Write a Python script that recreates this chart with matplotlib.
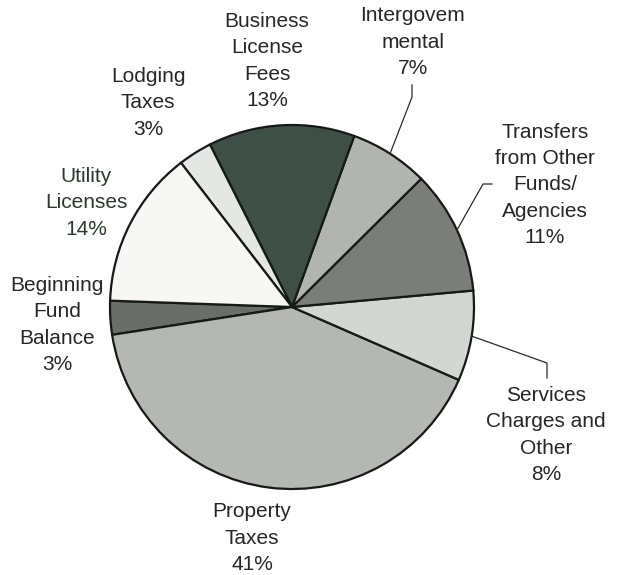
import matplotlib.pyplot as plt
import numpy as np

plt.rcParams['font.family'] = ['Liberation Sans', 'DejaVu Sans']

# revenue sources, in the order they are drawn (counter-clockwise from the left)
labels = ['Beginning\nFund\nBalance', 'Property\nTaxes', 'Services\nCharges and\nOther',
          'Transfers\nfrom Other\nFunds/\nAgencies', 'Intergovem\nmental',
          'Business\nLicense\nFees', 'Lodging\nTaxes', 'Utility\nLicenses']
shares = [3, 41, 8, 11, 7, 13, 3, 14]
colors = ['#6b6d69', '#b5b7b3', '#d3d7d2', '#7b7d79', '#b2b4b0',
          '#3d4f47', '#e5e7e5', '#f7f7f5']
text_colors = ['#262626'] * 7 + ['#283a2b']

# pixel geometry of the figure
W, H = 617, 575
cx, cy, R = 292, 307, 182


def px(x, y):
    return (x - cx) / R, (cy - y) / R


fig = plt.figure(figsize=(W / 100, H / 100), dpi=100)
ax = fig.add_axes([0, 0, 1, 1])

wedges, _ = ax.pie(shares, colors=colors, startangle=178, counterclock=True,
                   radius=1.0, center=(0, 0), frame=True,
                   wedgeprops=dict(edgecolor='#151a17', linewidth=1.6))
ax.set_xlim(-cx / R, (W - cx) / R)
ax.set_ylim(-(H - cy) / R, cy / R)
ax.set_aspect('equal')
ax.axis('off')

# label centre positions (pixels, centre of the text block)
label_pos = [(57, 325), (252, 538), (546, 435), (545, 185), (413, 42),
             (267, 61), (148, 103), (86, 203)]

for i, (lab, s) in enumerate(zip(labels, shares)):
    x, y = px(*label_pos[i])
    ax.text(x, y, f'{lab}\n{s}%', ha='center', va='center', fontsize=15,
            color=text_colors[i], linespacing=1.48)

# leader lines for the labels placed away from their slices
leaders = {4: [(412, 97), (412, 85)],
           3: [(483, 184), (492, 184)],
           2: [(547, 363), (547, 378)]}
for i, pts in leaders.items():
    w = wedges[i]
    mid = np.deg2rad((w.theta1 + w.theta2) / 2)
    xs = [np.cos(mid)] + [px(*p)[0] for p in pts]
    ys = [np.sin(mid)] + [px(*p)[1] for p in pts]
    ax.plot(xs, ys, color='#2a2a2a', linewidth=0.9)

fig.savefig('out.png', dpi=100)
